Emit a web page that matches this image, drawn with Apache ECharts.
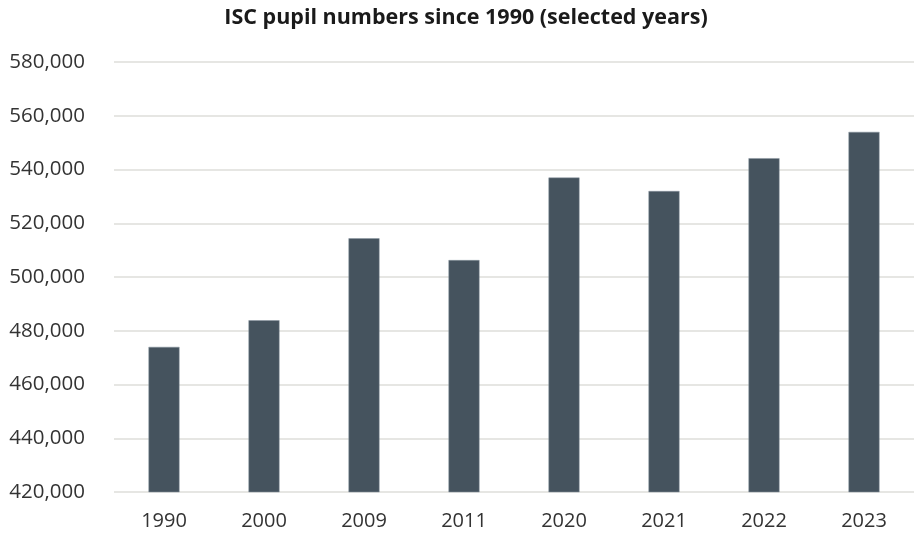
<!DOCTYPE html>
<html><head><meta charset="utf-8">
<script src="https://cdn.jsdelivr.net/npm/echarts@6/dist/echarts.min.js"></script>
<style>html,body{margin:0;padding:0;background:#fff}#c{width:917px;height:536px}</style>
</head><body><div id="c"></div>
<script>
const years = ['1990','2000','2009','2011','2020','2021','2022','2023'];
const pupils = [474000, 483900, 514400, 506300, 537000, 532000, 544200, 554000];
const yMin = 420000, yMax = 580000, yStep = 20000;
const FONT = "'Open Sans', sans-serif";
const chart = echarts.init(document.getElementById('c'));
chart.setOption({
  animation: false,
  title: {text: 'ISC pupil numbers since 1990 (selected years)', left: 461, textAlign: 'center', top: 2,
    textStyle: {fontFamily: FONT, fontSize: 21.5, fontWeight: 'bold', color: '#1a1a1a'}},
  grid: {left: 114, width: 800, top: 62, height: 430, containLabel: false},
  xAxis: {type: 'category', data: years,
    axisLine: {show: false}, axisTick: {show: false},
    axisLabel: {fontFamily: FONT, fontSize: 20, color: '#333', margin: 19}},
  yAxis: {type: 'value', min: yMin, max: yMax, interval: yStep,
    axisLine: {show: false}, axisTick: {show: false},
    splitLine: {lineStyle: {color: '#e6e6e3', width: 2}},
    axisLabel: {fontFamily: FONT, fontSize: 20.5, color: '#333', margin: 29,
      formatter: v => v.toLocaleString('en-US')}},
  series: [{type: 'bar', data: pupils, barWidth: 31,
    itemStyle: {color: '#45535e', borderColor: '#8a96a0', borderWidth: 0.5}}]
});
</script></body></html>
